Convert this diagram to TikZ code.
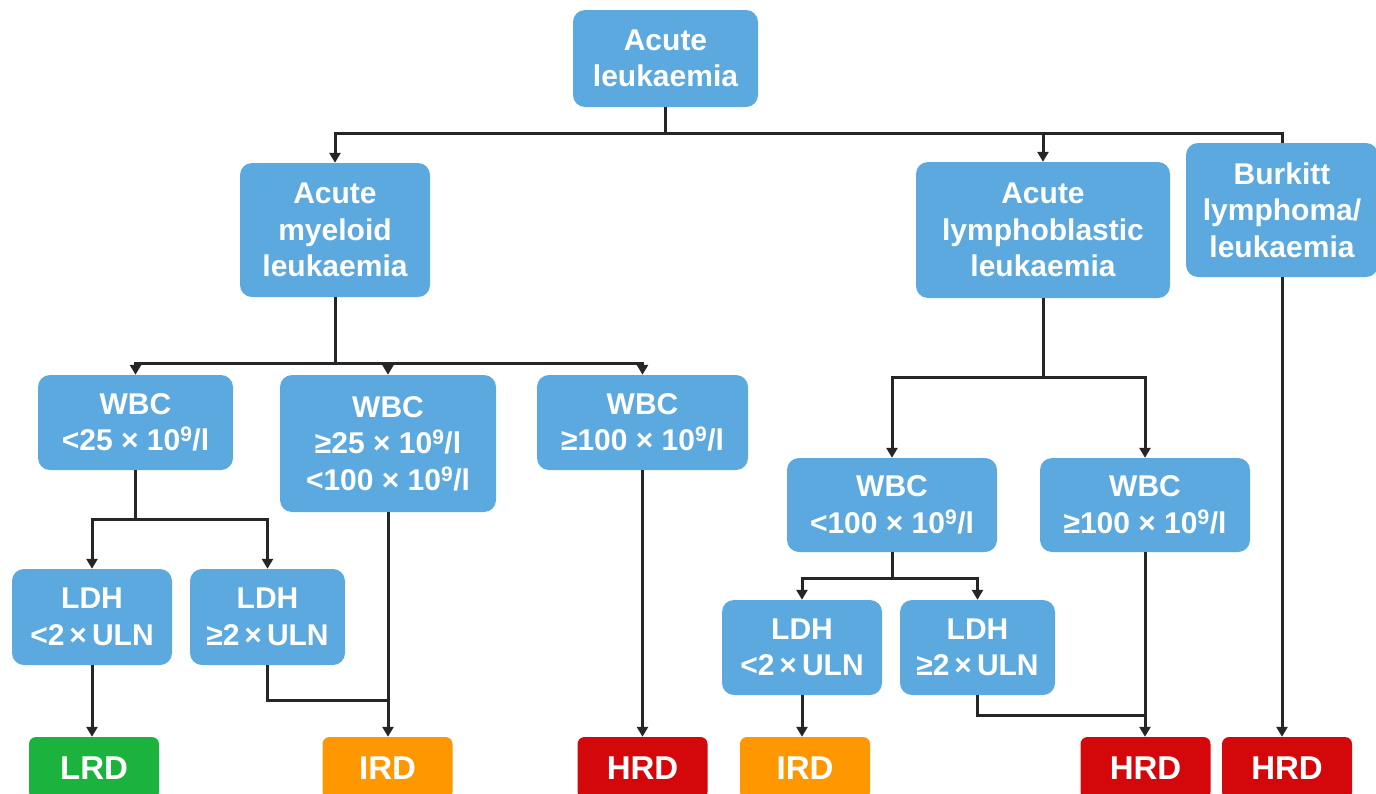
\documentclass[tikz,border=0pt]{standalone}
\usepackage{fontspec}
\setmainfont{Liberation Sans}
\usetikzlibrary{arrows.meta}
\definecolor{boxblue}{RGB}{91,169,223}
\definecolor{lrdgreen}{RGB}{28,178,62}
\definecolor{irdorange}{RGB}{255,152,0}
\definecolor{hrdred}{RGB}{212,8,10}
\begin{document}
\begin{tikzpicture}[x=1pt,y=-1pt,
  box/.style={rectangle, rounded corners=12pt, fill=boxblue, text=white,
    font=\fontsize{30}{36.5}\selectfont\bfseries, align=center, inner sep=0pt},
  res/.style={rectangle, rounded corners=7pt, text=white,
    font=\fontsize{33}{38}\selectfont\bfseries, inner sep=0pt,
    minimum width=130pt, minimum height=62pt},
  conn/.style={line width=3pt, draw=black!85},
  arr/.style={conn, -{Triangle[length=10pt,width=11pt]}},
]
\useasboundingbox (0,0) rectangle (1376,793);

% level 0
\node[box, minimum width=185pt, minimum height=97pt] (root) at (665.5,58.5) {Acute\\leukaemia};
% level 1
\node[box, minimum width=190pt, minimum height=134pt] (aml) at (335,230) {Acute\\myeloid\\leukaemia};
\node[box, minimum width=254pt, minimum height=136pt] (all) at (1043,230) {Acute\\lymphoblastic\\leukaemia};
\node[box, minimum width=192pt, minimum height=134pt] (burk) at (1282,210) {Burkitt\\lymphoma/\\leukaemia};
% AML WBC
\node[box, minimum width=195pt, minimum height=95pt] (wbc1) at (135.5,422.5) {WBC\\<25 × 10\textsuperscript{9}/l};
\node[box, minimum width=216pt, minimum height=137pt] (wbc2) at (388,443.5) {WBC\\≥25 × 10\textsuperscript{9}/l\\<100 × 10\textsuperscript{9}/l};
\node[box, minimum width=211pt, minimum height=95pt] (wbc3) at (642.5,422.5) {WBC\\≥100 × 10\textsuperscript{9}/l};
% AML LDH
\node[box, minimum width=160pt, minimum height=96pt] (ldh1) at (92,617) {LDH\\<2\,×\,ULN};
\node[box, minimum width=155pt, minimum height=96pt] (ldh2) at (267.5,617) {LDH\\≥2\,×\,ULN};
% ALL WBC
\node[box, minimum width=210pt, minimum height=94pt] (wbc4) at (892,505) {WBC\\<100 × 10\textsuperscript{9}/l};
\node[box, minimum width=210pt, minimum height=94pt] (wbc5) at (1145,505) {WBC\\≥100 × 10\textsuperscript{9}/l};
% ALL LDH
\node[box, minimum width=160pt, minimum height=95pt] (ldh3) at (802,647.5) {LDH\\<2\,×\,ULN};
\node[box, minimum width=155pt, minimum height=95pt] (ldh4) at (977.5,647.5) {LDH\\≥2\,×\,ULN};
% results
\node[res, fill=lrdgreen] (lrd) at (94,768) {LRD};
\node[res, fill=irdorange] (ird1) at (387.5,768) {IRD};
\node[res, fill=hrdred] (hrd1) at (642.5,768) {HRD};
\node[res, fill=irdorange] (ird2) at (805,768) {IRD};
\node[res, fill=hrdred] (hrd2) at (1145.5,768) {HRD};
\node[res, fill=hrdred] (hrd3) at (1287,768) {HRD};

% junctions
\coordinate (j0) at (665.5,133);
\coordinate (j1) at (335,363);
\coordinate (j2) at (135.5,519);
\coordinate (j3) at (1043,377);
\coordinate (j4) at (892,578);
\coordinate (m1) at (388,700);
\coordinate (m2) at (1145.5,715);

% connectors
\draw[conn] (root.south) -- (j0);
\draw[arr] (j0) -| (aml.north);
\draw[arr] (j0) -| (all.north);
\draw[conn] (j0) -| (burk.north);

\draw[conn] (aml.south) -- (j1);
\draw[arr] (j1) -| (wbc1.north);
\draw[arr] (j1) -| (wbc2.north);
\draw[arr] (j1) -| (wbc3.north);

\draw[conn] (wbc1.south) -- (j2);
\draw[arr] (j2) -| (ldh1.north);
\draw[arr] (j2) -| (ldh2.north);

\draw[arr] (ldh1.south) -- (ldh1.south |- lrd.north);
\draw[conn] (ldh2.south) |- (m1);
\draw[arr] (wbc2.south) -- (wbc2.south |- ird1.north);
\draw[arr] (wbc3.south) -- (wbc3.south |- hrd1.north);

\draw[conn] (all.south) -- (j3);
\draw[arr] (j3) -| (wbc4.north);
\draw[arr] (j3) -| (wbc5.north);

\draw[conn] (wbc4.south) -- (j4);
\draw[arr] (j4) -| (ldh3.north);
\draw[arr] (j4) -| (ldh4.north);

\draw[arr] (ldh3.south) -- (ldh3.south |- ird2.north);
\draw[conn] (ldh4.south) |- (m2);
\draw[arr] (wbc5.south) -- (wbc5.south |- hrd2.north);
\draw[arr] (burk.south) -- (burk.south |- hrd3.north);
\end{tikzpicture}
\end{document}
